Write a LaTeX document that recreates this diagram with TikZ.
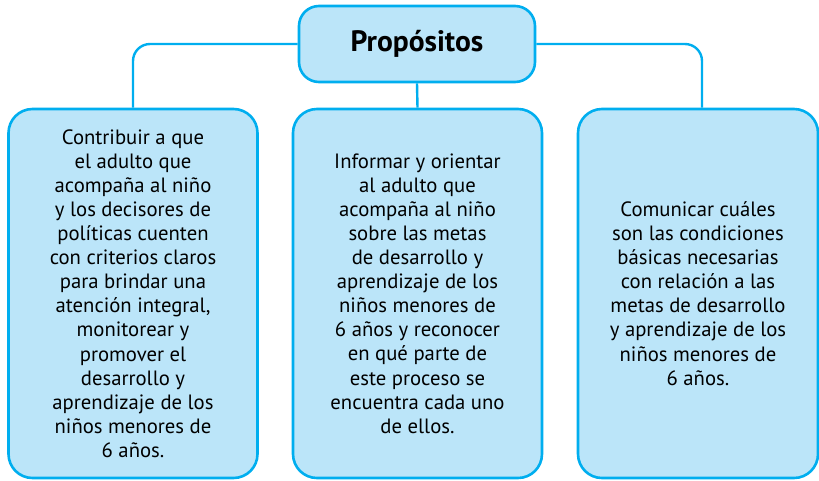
\documentclass[tikz,border=0pt]{standalone}
\usepackage{fontspec}
\setmainfont{PT Sans}
\definecolor{bord}{RGB}{0,174,239}
\definecolor{fillb}{RGB}{187,229,249}
\begin{document}
\begin{tikzpicture}[x=1pt,y=-1pt,
  box/.style={draw=bord,fill=fillb,line width=2.6pt,rounded corners=24pt,
    align=center,inner sep=0pt,text=black,
    font={\fontsize{20.7}{24.1}\selectfont},
    minimum width=249pt,minimum height=369pt},
  titlebox/.style={draw=bord,fill=fillb,line width=2.6pt,rounded corners=20pt,
    inner sep=0pt,minimum width=236pt,minimum height=76pt,
    font={\fontsize{29.5}{34}\selectfont\bfseries}},
  conn/.style={draw=bord,line width=2.4pt,rounded corners=17pt}]
\useasboundingbox (0,0) rectangle (819,480);
\node[titlebox] (top) at (417,44) {Propósitos};
\node[box] (left) at (133,293.5) {Contribuir a que\\el adulto que\\acompaña al niño\\y los decisores de\\políticas cuenten\\con criterios claros\\para brindar una\\atención integral,\\monitorear y\\promover el\\desarrollo y\\aprendizaje de los\\niños menores de\\6 años.};
\node[box] (mid) at (417.5,293.5) {Informar y orientar\\al adulto que\\acompaña al niño\\sobre las metas\\de desarrollo y\\aprendizaje de los\\niños menores de\\6 años y reconocer\\en qué parte de\\este proceso se\\encuentra cada uno\\de ellos.};
\node[box,minimum width=240pt] (right) at (698,293.5) {Comunicar cuáles\\son las condiciones\\básicas necesarias\\con relación a las\\metas de desarrollo\\y aprendizaje de los\\niños menores de\\6 años.};
\draw[conn] (top.west) -| (left.north);
\draw[conn] (top.east) -| ([xshift=4pt]right.north);
\draw[conn] (top.south) -- (mid.north);
\end{tikzpicture}
\end{document}
